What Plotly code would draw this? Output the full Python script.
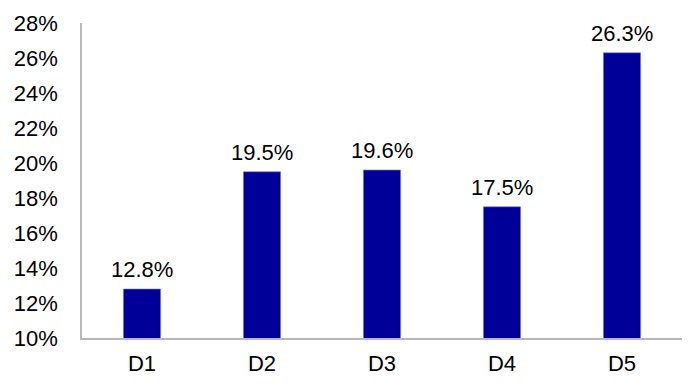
import plotly.graph_objects as go

categories = ["D1", "D2", "D3", "D4", "D5"]
values = [12.8, 19.5, 19.6, 17.5, 26.3]
labels = ["12.8%", "19.5%", "19.6%", "17.5%", "26.3%"]

FONT = "Liberation Sans, Arial, sans-serif"
SIZE = 22

fig = go.Figure(go.Bar(
    x=categories, y=values,
    marker=dict(color="#000099", line=dict(color="#7f7fc8", width=0.6)),
    width=0.31, hoverinfo="x+y",
))
for c, v, t in zip(categories, values, labels):
    fig.add_annotation(x=c, y=v, text=t, showarrow=False, yanchor="bottom",
                       yshift=5, font=dict(family=FONT, size=SIZE, color="#000000"))
fig.update_layout(
    width=682, height=379,
    margin=dict(l=74, r=8, t=15, b=49, autoexpand=False),
    plot_bgcolor="white", paper_bgcolor="white",
    font=dict(family=FONT, size=SIZE, color="#000000"),
    showlegend=False,
)
fig.update_yaxes(range=[10, 28], dtick=2, ticksuffix="%", tickformat=".0f",
                 tickfont=dict(family=FONT, size=SIZE, color="#000000"),
                 showgrid=False, zeroline=False, showline=True, linecolor="#b8b8b8",
                 linewidth=1.5, ticks="", ticklabelstandoff=18, automargin=False)
fig.update_xaxes(showgrid=False, showline=True, linecolor="#b8b8b8", linewidth=1.5,
                 tickfont=dict(family=FONT, size=SIZE, color="#000000"),
                 ticks="", ticklabelstandoff=5, automargin=False)
fig.write_html("out.html")
